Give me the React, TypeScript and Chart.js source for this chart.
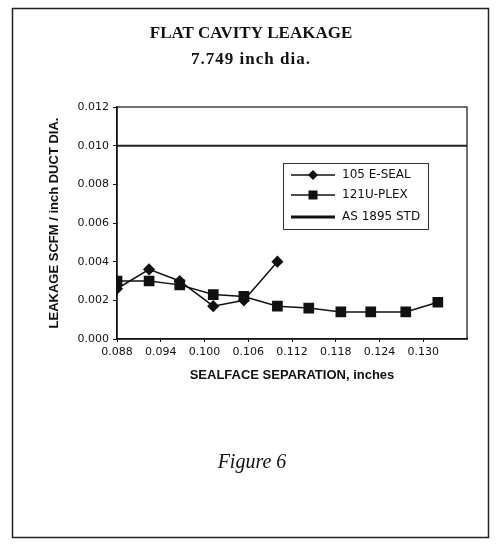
import React, { useEffect, useRef } from "react";
import { Chart, registerables } from "chart.js";

Chart.register(...registerables);

const TITLE = "FLAT CAVITY LEAKAGE";
const SUBTITLE = "7.749 inch dia.";
const CAPTION = "Figure 6";
const X_TITLE = "SEALFACE SEPARATION, inches";
const Y_TITLE = "LEAKAGE SCFM / inch DUCT DIA.";

const seriesNames = ["105 E-SEAL", "121U-PLEX", "AS 1895 STD"];

const eSealX = [0.088, 0.0924, 0.0966, 0.1012, 0.1054, 0.11];
const eSealY = [0.0026, 0.0036, 0.003, 0.0017, 0.002, 0.004];

const uplexX = [0.088, 0.0924, 0.0966, 0.1012, 0.1054, 0.11, 0.1143, 0.1187, 0.1228, 0.1276, 0.132];
const uplexY = [0.003, 0.003, 0.0028, 0.0023, 0.0022, 0.0017, 0.0016, 0.0014, 0.0014, 0.0014, 0.0019];

const stdX = [0.088, 0.136];
const stdY = [0.01, 0.01];

const xMin = 0.088;
const xMax = 0.136;
const xTickValues = [0.088, 0.094, 0.1, 0.106, 0.112, 0.118, 0.124, 0.13];
const xTickLabels = ["0.088", "0.094", "0.100", "0.106", "0.112", "0.118", "0.124", "0.130"];
const yTickValues = [0, 0.002, 0.004, 0.006, 0.008, 0.01, 0.012];
const yTickLabels = ["0.000", "0.002", "0.004", "0.006", "0.008", "0.010", "0.012"];

const INK = "#111";
const TICK_FONT = { family: "'DejaVu Sans', sans-serif", size: 11 };
const AXIS_TITLE_FONT = { family: "'Liberation Sans', Arial, sans-serif", size: 13, weight: "bold" as const };

const decorations = {
  id: "decorations",
  afterDraw(chart: any) {
    const ctx = chart.ctx as CanvasRenderingContext2D;
    const area = chart.chartArea;
    ctx.save();
    // outer frame
    ctx.strokeStyle = "#222";
    ctx.lineWidth = 1.5;
    ctx.strokeRect(12.5, 8.5, 476, 529);
    // plot border
    ctx.lineWidth = 1.2;
    ctx.strokeStyle = INK;
    ctx.strokeRect(area.left, area.top, area.right - area.left, area.bottom - area.top);
    // titles
    ctx.fillStyle = INK;
    ctx.textAlign = "center";
    ctx.textBaseline = "middle";
    ctx.font = "bold 17px 'Liberation Serif', serif";
    ctx.fillText(TITLE, 251, 34);
    (ctx as any).letterSpacing = "1px";
    ctx.fillText(SUBTITLE, 251, 60);
    (ctx as any).letterSpacing = "0px";
    ctx.font = "italic 20px 'Liberation Serif', serif";
    ctx.fillText(CAPTION, 252, 463);

    // legend box
    const bx = area.left + 166;
    const by = area.top + 56;
    const bw = 145;
    const bh = 66;
    ctx.lineWidth = 1;
    ctx.strokeStyle = "#333";
    ctx.strokeRect(bx + 0.5, by + 0.5, bw, bh);
    const rows = [12, 32, 54];
    chart.data.datasets.forEach((ds: any, i: number) => {
      const y = by + rows[i];
      ctx.strokeStyle = INK;
      ctx.lineWidth = i === 2 ? 3 : 1.5;
      ctx.beginPath();
      ctx.moveTo(bx + 8, y);
      ctx.lineTo(bx + 52, y);
      ctx.stroke();
      ctx.fillStyle = INK;
      const cx = bx + 30;
      if (ds.pointStyle === "rectRot") {
        ctx.beginPath();
        ctx.moveTo(cx - 5, y);
        ctx.lineTo(cx, y - 5);
        ctx.lineTo(cx + 5, y);
        ctx.lineTo(cx, y + 5);
        ctx.closePath();
        ctx.fill();
      } else if (ds.pointStyle === "rect") {
        ctx.fillRect(cx - 4.5, y - 4.5, 9, 9);
      }
      ctx.textAlign = "left";
      ctx.textBaseline = "middle";
      ctx.font = "12px 'DejaVu Sans', sans-serif";
      ctx.fillText(ds.label, bx + 59, y);
    });
    ctx.restore();
  },
};

export default function App() {
  const ref = useRef<HTMLCanvasElement | null>(null);

  useEffect(() => {
    document.body.style.margin = "0";
    const canvas = ref.current;
    if (!canvas) return;
    const chart = new Chart(canvas, {
      type: "scatter",
      data: {
        datasets: [
          {
            label: seriesNames[0],
            data: eSealX.map((x, i) => ({ x, y: eSealY[i] })),
            showLine: true,
            borderColor: INK,
            backgroundColor: INK,
            borderWidth: 1.5,
            pointStyle: "rectRot",
            pointRadius: 5,
            pointHoverRadius: 5,
          },
          {
            label: seriesNames[1],
            data: uplexX.map((x, i) => ({ x, y: uplexY[i] })),
            showLine: true,
            borderColor: INK,
            backgroundColor: INK,
            borderWidth: 1.5,
            pointStyle: "rect",
            pointRadius: 6.5,
            pointHoverRadius: 6.5,
          },
          {
            label: seriesNames[2],
            data: stdX.map((x, i) => ({ x, y: stdY[i] })),
            showLine: true,
            borderColor: "#222",
            backgroundColor: "#222",
            borderWidth: 2,
            pointRadius: 0,
            pointHoverRadius: 0,
          },
        ],
      },
      options: {
        animation: false,
        responsive: false,
        events: [],
        layout: { padding: { left: 44, top: 107, right: 35, bottom: 165 } },
        plugins: {
          legend: { display: false },
          tooltip: { enabled: false },
          title: { display: false },
        },
        scales: {
          x: {
            type: "linear",
            min: xMin,
            max: xMax,
            afterBuildTicks: (scale: any) => {
              scale.ticks = xTickValues.map((v) => ({ value: v }));
            },
            afterFit: (scale: any) => {
              scale.height = 44;
            },
            ticks: {
              autoSkip: false,
              maxRotation: 0,
              minRotation: 0,
              padding: 4,
              color: INK,
              font: TICK_FONT,
              callback: (v: any, i: number) => xTickLabels[i],
            },
            grid: { drawOnChartArea: false, drawTicks: true, tickLength: 3, color: INK },
            border: { display: true, color: INK, width: 1.5 },
            title: {
              display: true,
              text: X_TITLE,
              color: INK,
              font: AXIS_TITLE_FONT,
              padding: { top: 0, bottom: 0 },
            },
          },
          y: {
            type: "linear",
            min: 0,
            max: 0.012,
            afterBuildTicks: (scale: any) => {
              scale.ticks = yTickValues.map((v) => ({ value: v }));
            },
            afterFit: (scale: any) => {
              scale.width = 73;
            },
            ticks: {
              autoSkip: false,
              padding: 4,
              color: INK,
              font: TICK_FONT,
              callback: (v: any, i: number) => yTickLabels[i],
            },
            grid: { drawOnChartArea: false, drawTicks: true, tickLength: 4, color: INK },
            border: { display: true, color: INK, width: 1.5 },
            title: {
              display: true,
              text: Y_TITLE,
              color: INK,
              font: AXIS_TITLE_FONT,
              padding: { top: 3, bottom: 0 },
            },
          },
        },
      },
      plugins: [decorations],
    } as any);
    return () => chart.destroy();
  }, []);

  return <canvas ref={ref} width={502} height={548} style={{ display: "block" }} />;
}
